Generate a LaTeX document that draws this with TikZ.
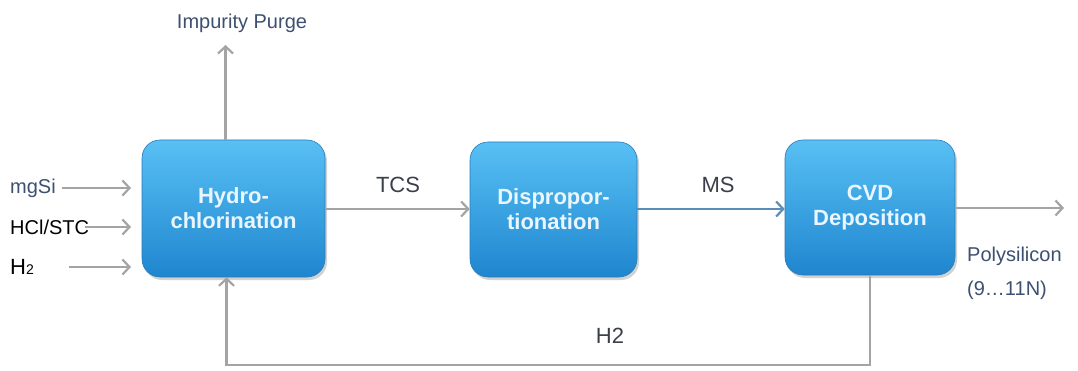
\documentclass[tikz,border=0pt]{standalone}
\usepackage{fontspec}
\setmainfont{Liberation Sans}
\usetikzlibrary{arrows.meta,shadows}
\definecolor{arrgray}{HTML}{A4A4A4}
\definecolor{msblue}{HTML}{5B8DB8}
\definecolor{boxtop}{HTML}{58C0F4}
\definecolor{boxbot}{HTML}{1F86CF}
\definecolor{boxline}{HTML}{2B7BB8}
\definecolor{lblcol}{HTML}{3A3F4A}
\definecolor{bluelbl}{HTML}{3D5070}
\definecolor{boxtext}{HTML}{EAF6FF}
\tikzset{
  procbox/.style={rounded corners=18pt, top color=boxtop, bottom color=boxbot,
    draw=boxline, line width=0.6pt, text=boxtext,
    font=\fontsize{22}{25}\selectfont\bfseries, align=center,
    drop shadow={shadow xshift=2pt, shadow yshift=-3pt, opacity=0.35}},
  arr/.style={draw=arrgray, line width=2.4pt,
    -{Straight Barb[length=7pt,width=15pt,line width=2.2pt]}},
  lbl/.style={font=\fontsize{22}{24}\selectfont, text=lblcol, inner sep=0pt},
  inlbl/.style={font=\fontsize{20}{24}\selectfont, inner sep=0pt, anchor=west},
}
\begin{document}
\begin{tikzpicture}[x=1pt,y=-1pt]
\useasboundingbox[fill=white] (0,0) rectangle (1078,371);

\node[procbox, minimum width=183pt, minimum height=137pt] (hyd) at (233.5,208.5) {Hydro-\\chlorination};
\node[procbox, minimum width=167pt, minimum height=135pt] (dis) at (553.5,209.5) {Dispropor-\\tionation};
\node[procbox, minimum width=170pt, minimum height=135pt] (cvd) at (870,207.5) {CVD\\Deposition};

% inputs
\node[inlbl, text=bluelbl] (mg) at (10,188) {mgSi};
\node[inlbl, text=black] (hcl) at (10,227) {HCl/STC};
\node[inlbl, text=black, font=\fontsize{22}{24}\selectfont] (h2in) at (10,267) {H{\fontsize{14}{14}\selectfont 2}};
\coordinate (mgend) at (131,188);
\coordinate (hclend) at (131,227);
\coordinate (h2end) at (131,267);
\draw[arr] ([xshift=6pt]mg.east) -- (mgend);
\draw[arr] ([xshift=-4pt]hcl.east) -- (hclend);
\draw[arr] ([xshift=35pt]h2in.east) -- (h2end);

% impurity purge
\coordinate (imptip) at (225.5,45);
\node[lbl, text=bluelbl, font=\fontsize{20}{24}\selectfont] (imp) at (242,23) {Impurity Purge};
\draw[arr] ([xshift=-8pt]hyd.north) -- (imptip);

% main line
\draw[arr] (hyd.east |- 0,209) -- (dis.west |- 0,209);
\node[lbl] (tcs) at (398,185) {TCS};
\draw[arr, draw=msblue] (dis.east |- 0,209) -- (cvd.west |- 0,209);
\node[lbl] (ms) at (718,185) {MS};

% output
\coordinate (outend) at (1064,208);
\draw[arr] (cvd.east |- outend) -- (outend);
\node[lbl, anchor=west, text=bluelbl, font=\fontsize{20}{24}\selectfont] (poly) at (967,256) {Polysilicon};
\node[lbl, anchor=west, text=bluelbl, font=\fontsize{20}{24}\selectfont] (purity) at (967,290) {(9\ldots11N)};

% recycle loop
\draw[arr] (cvd.south) -- ++(0,89.5) -| ([xshift=-7pt]hyd.south);
\node[lbl] (h2loop) at (610,336) {H2};
\end{tikzpicture}
\end{document}
